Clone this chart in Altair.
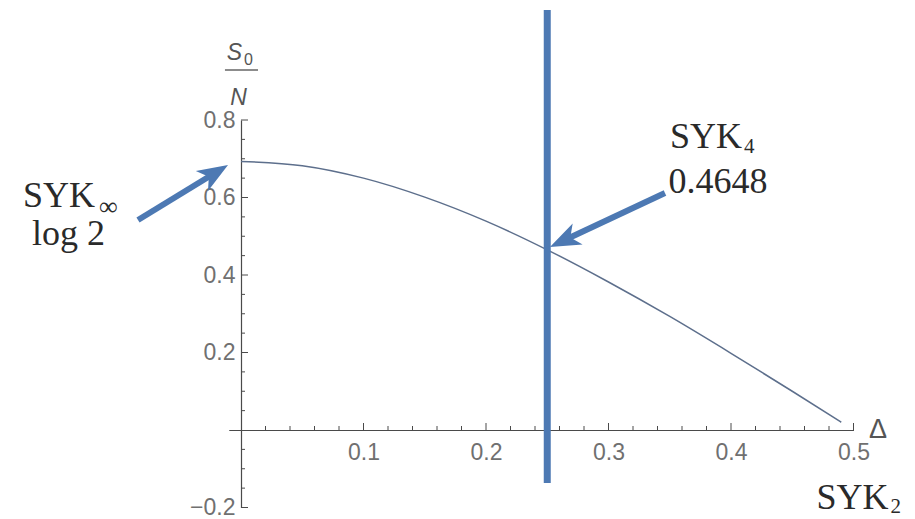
import math
import altair as alt
import pandas as pd

# Zero-temperature entropy S0/N as a function of the fermion dimension Delta
delta = [0.0, 0.05, 0.10, 0.15, 0.20, 0.25, 0.30, 0.35, 0.40, 0.45, 0.49]
s0 = [0.693, 0.682, 0.650, 0.601, 0.539, 0.465, 0.382, 0.293, 0.198, 0.100, 0.020]

# axis labels and tick positions
x_labels = [0.1, 0.2, 0.3, 0.4, 0.5]
y_labels = [-0.2, 0.2, 0.4, 0.6, 0.8]
x_major = [0.1, 0.2, 0.3, 0.4, 0.5]
x_minor = [0.02, 0.04, 0.06, 0.08, 0.12, 0.14, 0.16, 0.18, 0.22, 0.24, 0.26, 0.28,
           0.32, 0.34, 0.36, 0.38, 0.42, 0.44, 0.46, 0.48]
y_major = [-0.2, 0.2, 0.4, 0.6, 0.8]
y_minor = [-0.15, -0.1, -0.05, 0.05, 0.1, 0.15, 0.25, 0.3, 0.35, 0.45, 0.5, 0.55,
           0.65, 0.7, 0.75]

# SYK_4 marker line
syk4_delta = [0.25]
syk4_span = [1.084, -0.137]

# annotation arrows (tail -> tip, data units)
arrow_tail_x = [-0.0841, 0.3461]
arrow_tail_y = [0.5419, 0.6116]
arrow_tip_x = [-0.0106, 0.2522]
arrow_tip_y = [0.6839, 0.4723]

# annotation texts
serif_text = ["SYK", "log 2", "SYK", "0.4648", "SYK"]
serif_x = [-0.1486, -0.1408, 0.3796, 0.3894, 0.4992]
serif_y = [0.5755, 0.4774, 0.7277, 0.6116, -0.2030]
sub_text = ["\u221e", "4", "2"]
sub_x = [-0.1160, 0.4106, 0.5302]
sub_y = [0.5548, 0.7148, -0.2140]
sub_size = [26, 21, 21]

# plot geometry
W, H = 624.75, 387.5
x_dom = [-0.01, 0.5]
y_dom = [-0.2, 0.8]
kx = W / (x_dom[1] - x_dom[0])
ky = H / (y_dom[1] - y_dom[0])

xs = alt.Scale(domain=x_dom, nice=False, zero=False)
ys = alt.Scale(domain=y_dom, nice=False, zero=False)

AXIS_COLOR = "#4a4a4a"
LABEL_COLOR = "#707070"
BLUE = "#4d79b3"
TEXT_COLOR = "#2a2a2a"

# axes cross at the origin; ticks are drawn separately so they point into the plot
x_axis = alt.Axis(
    orient="bottom", offset=-(0 - y_dom[0]) * ky, values=x_labels, format=".1f",
    ticks=False, tickSize=0, grid=False, labelPadding=11, labelFlush=False,
    labelOverlap=False, labelFont="Liberation Sans", labelFontSize=23,
    labelColor=LABEL_COLOR, domainColor=AXIS_COLOR, domainWidth=1.2, title=None)
y_axis = alt.Axis(
    orient="left", offset=-(0 - x_dom[0]) * kx, values=y_labels, format=".1f",
    ticks=False, tickSize=0, grid=False, labelPadding=6, labelFlush=False,
    labelOverlap=False, labelFont="Liberation Sans", labelFontSize=23,
    labelColor=LABEL_COLOR, domainColor=AXIS_COLOR, domainWidth=1.2, title=None)


def X(field):
    return alt.X(field, scale=xs, axis=x_axis)


def Y(field):
    return alt.Y(field, scale=ys, axis=y_axis)


curve_df = pd.DataFrame({"delta": delta, "s0": s0})
curve = alt.Chart(curve_df).mark_line(
    color="#5d6f8c", strokeWidth=1.5, interpolate="monotone"
).encode(x=X("delta:Q"), y=Y("s0:Q"))


def x_ticks(values, length):
    df = pd.DataFrame({"v": values, "z": [0.0] * len(values)})
    return alt.Chart(df).mark_rule(color=AXIS_COLOR, strokeWidth=1, y2Offset=-length).encode(
        x=X("v:Q"), y=Y("z:Q"), y2="z:Q",
    )


def y_ticks(values, length):
    df = pd.DataFrame({"v": values, "z": [0.0] * len(values)})
    return alt.Chart(df).mark_rule(color=AXIS_COLOR, strokeWidth=1, x2Offset=length).encode(
        x=X("z:Q"), x2="z:Q", y=Y("v:Q"),
    )


vline_df = pd.DataFrame({"x": syk4_delta, "y1": [syk4_span[0]], "y2": [syk4_span[1]]})
vline = alt.Chart(vline_df).mark_rule(color=BLUE, strokeWidth=7, strokeCap="butt").encode(
    x=X("x:Q"), y=Y("y1:Q"), y2="y2:Q",
)

# arrow geometry: shaft stops inside the head, head rotated along the arrow
head_r = 18.0  # half of sqrt(symbol size)
rows = []
for tx, ty, px, py in zip(arrow_tail_x, arrow_tail_y, arrow_tip_x, arrow_tip_y):
    dx = (px - tx) * kx
    dy = -(py - ty) * ky
    length = math.hypot(dx, dy)
    frac = 1 - (1.2 * head_r) / length
    ang = math.degrees(math.atan2(dx, -dy)) % 360
    rows.append({"tx": tx, "ty": ty, "px": px, "py": py,
                 "ex": tx + (px - tx) * frac, "ey": ty + (py - ty) * frac, "ang": ang})
arrow_df = pd.DataFrame(rows)

shafts = alt.Chart(arrow_df).mark_rule(color=BLUE, strokeWidth=6, strokeCap="butt").encode(
    x=X("tx:Q"), y=Y("ty:Q"), x2="ex:Q", y2="ey:Q",
)
heads = alt.Chart(arrow_df).mark_point(
    shape="M0,0 L0.65,1.7 L0,1.25 L-0.65,1.7 Z", size=(2 * head_r) ** 2,
    filled=True, opacity=1, color=BLUE, strokeWidth=0,
).encode(
    x=X("px:Q"), y=Y("py:Q"), angle=alt.Angle("ang:Q", scale=None),
)

serif_df = pd.DataFrame({"t": serif_text, "x": serif_x, "y": serif_y})
serif = alt.Chart(serif_df).mark_text(
    font="Liberation Serif", fontSize=36, color=TEXT_COLOR, align="center",
    baseline="alphabetic",
).encode(x=X("x:Q"), y=Y("y:Q"), text="t:N")

sub_df = pd.DataFrame({"t": sub_text, "x": sub_x, "y": sub_y, "s": sub_size})
subs = alt.Chart(sub_df).mark_text(
    font="Liberation Serif", color=TEXT_COLOR, align="left", baseline="alphabetic",
).encode(x=X("x:Q"), y=Y("y:Q"), text="t:N", size=alt.Size("s:Q", scale=None))

# axis titles: Delta at the end of the x axis, S0/N fraction above the y axis
delta_df = pd.DataFrame({"t": ["\u0394"], "x": [0.520], "y": [-0.0206]})
delta_title = alt.Chart(delta_df).mark_text(
    font="Liberation Sans", fontSize=27, color="#555555", align="center",
    baseline="alphabetic",
).encode(x=X("x:Q"), y=Y("y:Q"), text="t:N")

frac_df = pd.DataFrame({"t": ["S", "N"], "x": [-0.0053, -0.0020], "y": [0.9548, 0.8387]})
frac_text = alt.Chart(frac_df).mark_text(
    font="Liberation Sans", fontSize=23, fontStyle="italic", color="#555555",
    align="center", baseline="alphabetic",
).encode(x=X("x:Q"), y=Y("y:Q"), text="t:N")

sub0_df = pd.DataFrame({"t": ["0"], "x": [0.0025], "y": [0.9419]})
sub0 = alt.Chart(sub0_df).mark_text(
    font="Liberation Sans", fontSize=16, color="#555555", align="left", baseline="alphabetic",
).encode(x=X("x:Q"), y=Y("y:Q"), text="t:N")

bar_df = pd.DataFrame({"x1": [-0.0131], "x2": [0.0139], "y": [0.929]})
frac_bar = alt.Chart(bar_df).mark_rule(color="#666666", strokeWidth=1.5).encode(
    x=X("x1:Q"), x2="x2:Q", y=Y("y:Q"),
)

left_pad = 241 - (0 - x_dom[0]) * kx
chart = alt.layer(
    curve,
    x_ticks(x_major, 7), x_ticks(x_minor, 4),
    y_ticks(y_major, 7), y_ticks(y_minor, 4),
    vline, shafts, heads, serif, subs, delta_title, frac_text, sub0, frac_bar,
).properties(
    width=W, height=H,
    autosize=alt.AutoSizeParams(type="none"),
    padding={"left": left_pad, "top": 120,
             "right": 915 - left_pad - W, "bottom": 519 - 120 - H},
    background="white",
).configure_view(stroke=None)

chart.save("out.html", embed_options={"renderer": "svg", "actions": False})
